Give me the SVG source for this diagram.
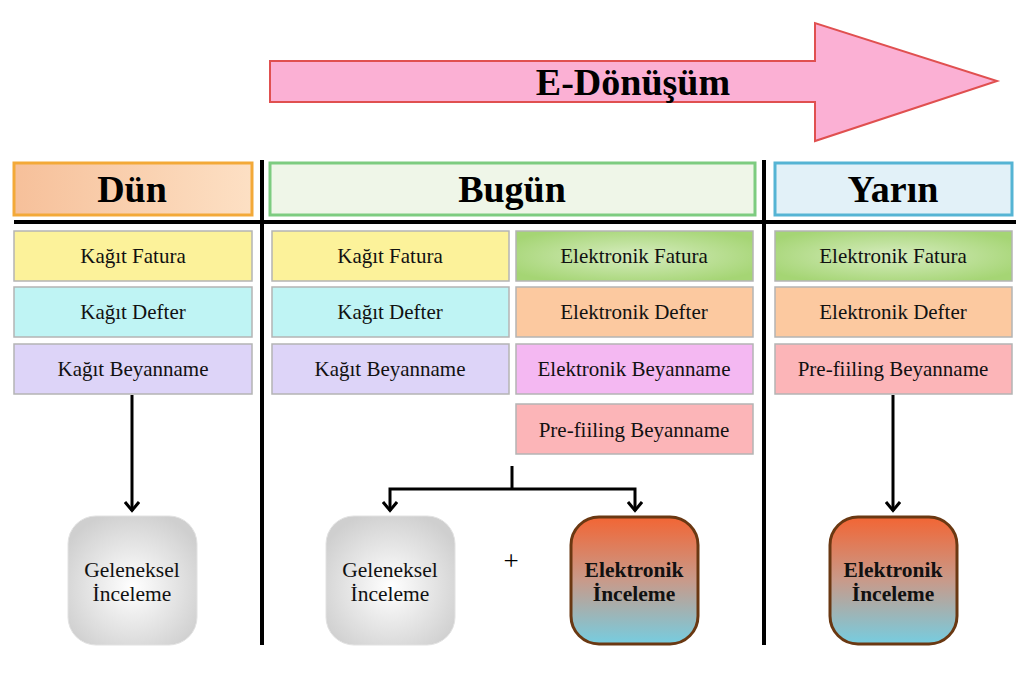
<svg xmlns="http://www.w3.org/2000/svg" width="1024" height="682" viewBox="0 0 1024 682">
<defs>
<style>
.hd{font-family:"Liberation Serif",serif;font-weight:bold;font-size:38px;fill:#000;text-anchor:middle}
.it{font-family:"Liberation Serif",serif;font-size:21px;fill:#111;text-anchor:middle}
.nb{font-family:"Liberation Serif",serif;font-size:21.5px;fill:#111;text-anchor:middle;font-weight:bold}
.nt{font-family:"Liberation Serif",serif;font-size:21.5px;fill:#111;text-anchor:middle}
.cell{stroke:#b4b4b4;stroke-width:1.5}
.conn{fill:none;stroke:#000;stroke-width:3}
.div{stroke:#000;stroke-width:4}
</style>
<linearGradient id="gDun" x1="0" y1="0" x2="1" y2="0"><stop offset="0" stop-color="#f6c09a"/><stop offset="1" stop-color="#fde0c4"/></linearGradient>
<radialGradient id="gEF" cx="0.5" cy="0.5" r="0.6"><stop offset="0" stop-color="#d6ecbf"/><stop offset="1" stop-color="#a5d574"/></radialGradient>
<radialGradient id="gGel" cx="0.5" cy="0.55" r="0.6"><stop offset="0" stop-color="#ffffff"/><stop offset="1" stop-color="#cfcfcf"/></radialGradient>
<linearGradient id="gEl" x1="0" y1="0" x2="0" y2="1"><stop offset="0" stop-color="#f26534"/><stop offset="0.5" stop-color="#c89a8a"/><stop offset="1" stop-color="#76cde0"/></linearGradient>
<marker id="ah" viewBox="0 0 12 16" refX="10" refY="8" markerWidth="12" markerHeight="16" markerUnits="userSpaceOnUse" orient="auto">
<path d="M1,1 L9.5,8 L1,15" fill="none" stroke="#000" stroke-width="3"/>
</marker>
</defs>
<rect width="1024" height="682" fill="#fff"/>

<g id="arrow-edonusum">
<polygon points="270,61 815,61 815,23 997,81 815,141 815,102 270,102" fill="#fbb0d4" stroke="#e05050" stroke-width="2"/>
<text x="633" y="95" class="hd">E-Dönüşüm</text>
</g>

<g id="dividers">
<line x1="14" y1="222" x2="1016" y2="222" class="div"/>
<line x1="262" y1="160" x2="262" y2="645" class="div"/>
<line x1="764" y1="160" x2="764" y2="645" class="div"/>
</g>

<g id="h-dun"><rect x="14" y="163" width="238" height="52" fill="url(#gDun)" stroke="#f3a938" stroke-width="3"/><text x="132" y="202" class="hd">Dün</text></g>
<g id="h-bugun"><rect x="270" y="163" width="485" height="52" fill="#eff6e8" stroke="#7dcc80" stroke-width="3"/><text x="512" y="202" class="hd">Bugün</text></g>
<g id="h-yarin"><rect x="775" y="163" width="237" height="52" fill="#e2f1f8" stroke="#55b4d4" stroke-width="3"/><text x="893" y="202" class="hd">Yarın</text></g>

<g id="d1"><rect x="14" y="231" width="238" height="50" fill="#fcf29a" class="cell"/><text x="133" y="263" class="it">Kağıt Fatura</text></g>
<g id="d2"><rect x="14" y="287" width="238" height="50" fill="#bff4f4" class="cell"/><text x="133" y="319" class="it">Kağıt Defter</text></g>
<g id="d3"><rect x="14" y="344" width="238" height="50" fill="#ddd4f8" class="cell"/><text x="133" y="376" class="it">Kağıt Beyanname</text></g>

<g id="b1"><rect x="272" y="231" width="237" height="50" fill="#fcf29a" class="cell"/><text x="390" y="263" class="it">Kağıt Fatura</text></g>
<g id="b2"><rect x="272" y="287" width="237" height="50" fill="#bff4f4" class="cell"/><text x="390" y="319" class="it">Kağıt Defter</text></g>
<g id="b3"><rect x="272" y="344" width="237" height="50" fill="#ddd4f8" class="cell"/><text x="390" y="376" class="it">Kağıt Beyanname</text></g>
<g id="b4"><rect x="516" y="231" width="237" height="50" fill="url(#gEF)" class="cell"/><text x="634" y="263" class="it">Elektronik Fatura</text></g>
<g id="b5"><rect x="516" y="287" width="237" height="50" fill="#fcc9a0" class="cell"/><text x="634" y="319" class="it">Elektronik Defter</text></g>
<g id="b6"><rect x="516" y="344" width="237" height="50" fill="#f4b8f2" class="cell"/><text x="634" y="376" class="it">Elektronik Beyanname</text></g>
<g id="b7"><rect x="516" y="404" width="237" height="50" fill="#fcb5b8" class="cell"/><text x="634" y="437" class="it">Pre-fiiling Beyanname</text></g>

<g id="y1"><rect x="775" y="231" width="237" height="50" fill="url(#gEF)" class="cell"/><text x="893" y="263" class="it">Elektronik Fatura</text></g>
<g id="y2"><rect x="775" y="287" width="237" height="50" fill="#fcc9a0" class="cell"/><text x="893" y="319" class="it">Elektronik Defter</text></g>
<g id="y3"><rect x="775" y="344" width="237" height="50" fill="#fcb5b8" class="cell"/><text x="893" y="376" class="it">Pre-fiiling Beyanname</text></g>

<g id="connectors">
<path d="M132,395 V511" class="conn" marker-end="url(#ah)"/>
<path d="M512,466 V489" class="conn"/>
<path d="M512,489 H390 V511" class="conn" marker-end="url(#ah)"/>
<path d="M512,489 H635 V511" class="conn" marker-end="url(#ah)"/>
<path d="M893,395 V511" class="conn" marker-end="url(#ah)"/>
</g>

<g id="n-gel1"><rect x="68" y="516" width="129" height="129" rx="28" fill="url(#gGel)" stroke="#e2e2e2" stroke-width="1"/><text x="132" y="577" class="nt">Geleneksel</text><text x="132" y="601" class="nt">İnceleme</text></g>
<g id="n-gel2"><rect x="326" y="516" width="129" height="129" rx="28" fill="url(#gGel)" stroke="#e2e2e2" stroke-width="1"/><text x="390" y="577" class="nt">Geleneksel</text><text x="390" y="601" class="nt">İnceleme</text></g>
<text x="511" y="570" style="font-family:'Liberation Serif',serif;font-size:27px;text-anchor:middle">+</text>
<g id="n-el1"><rect x="571" y="517" width="127" height="127" rx="28" fill="url(#gEl)" stroke="#6a3812" stroke-width="3"/><text x="634" y="577" class="nb">Elektronik</text><text x="634" y="601" class="nb">İnceleme</text></g>
<g id="n-el2"><rect x="830" y="517" width="127" height="127" rx="28" fill="url(#gEl)" stroke="#6a3812" stroke-width="3"/><text x="893" y="577" class="nb">Elektronik</text><text x="893" y="601" class="nb">İnceleme</text></g>
</svg>
